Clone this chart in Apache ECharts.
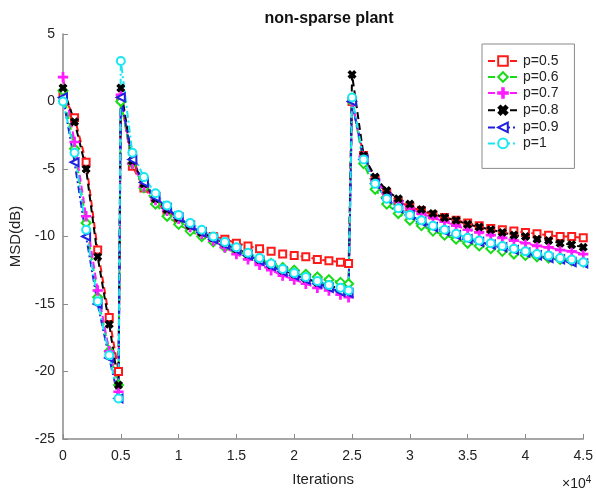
<!DOCTYPE html>
<html>
<head>
<meta charset="utf-8">
<script src="https://cdn.jsdelivr.net/npm/echarts@6/dist/echarts.min.js"></script>
<style>
  html, body { margin: 0; padding: 0; background: #fff; }
  #chart { width: 596px; height: 492px; }
</style>
</head>
<body>
<div id="chart"></div>
<script>
// iterations (x), shared by every curve
const iters = [0, 1000, 2000, 3000, 4000, 4800, 5000,
  6000, 7000, 8000, 9000, 10000, 11000, 12000, 13000, 14000, 15000,
  16000, 17000, 18000, 19000, 20000, 21000, 22000, 23000, 24000, 24700, 25000,
  26000, 27000, 28000, 29000, 30000, 31000, 32000, 33000, 34000, 35000,
  36000, 37000, 38000, 39000, 40000, 41000, 42000, 43000, 44000, 45000];

const xTicks = [0, 5000, 10000, 15000, 20000, 25000, 30000, 35000, 40000, 45000];
const yTicks = [-25, -20, -15, -10, -5, 0, 5];

// MSD in dB
const msdP05 = [0.5, -1.2, -4.5, -11.0, -16.0, -20.0, 0.2,
  -4.8, -6.4, -7.4, -8.2, -8.8, -9.3, -9.7, -10.0, -10.2, -10.5, -10.7, -10.9, -11.1, -11.3, -11.4, -11.5, -11.7, -11.8, -11.9, -12.0,
  0.0,
  -4.0, -5.8, -6.8, -7.4, -7.8, -8.1, -8.4, -8.6, -8.8, -9.0, -9.2, -9.4, -9.5, -9.6, -9.7, -9.8, -9.9, -10.0, -10.0, -10.1];
const msdP06 = [0.8, -3.5, -9.0, -14.5, -18.5, -21.0, 0.0,
  -4.6, -6.4, -7.6, -8.5, -9.1, -9.6, -10.0, -10.4, -10.8, -11.1, -11.4, -11.7, -12.0, -12.3, -12.5, -12.8, -13.0, -13.2, -13.4, -13.5,
  0.0,
  -4.6, -6.5, -7.6, -8.3, -8.8, -9.2, -9.6, -9.9, -10.2, -10.5, -10.7, -10.9, -11.1, -11.3, -11.4, -11.5, -11.6, -11.7, -11.8, -11.9];
const msdP07 = [1.8, -3.0, -8.5, -14.0, -18.5, -21.5, 0.5,
  -4.6, -6.3, -7.3, -8.1, -8.7, -9.3, -9.8, -10.3, -10.8, -11.3, -11.7, -12.1, -12.5, -12.9, -13.2, -13.5, -13.8, -14.0, -14.3, -14.5,
  0.0,
  -4.1, -5.8, -6.8, -7.4, -7.9, -8.3, -8.6, -8.9, -9.2, -9.5, -9.7, -9.9, -10.1, -10.3, -10.5, -10.7, -10.8, -11.0, -11.1, -11.3];
const msdP08 = [1.0, -1.5, -5.0, -11.5, -16.5, -21.0, 1.0,
  -4.4, -6.1, -7.2, -8.0, -8.6, -9.2, -9.7, -10.1, -10.5, -10.9, -11.3, -11.7, -12.1, -12.5, -12.8, -13.1, -13.4, -13.6, -13.9, -14.0,
  2.0,
  -4.0, -5.6, -6.6, -7.2, -7.6, -8.0, -8.3, -8.6, -8.8, -9.1, -9.3, -9.5, -9.7, -9.9, -10.0, -10.2, -10.3, -10.5, -10.6, -10.8];
const msdP09 = [0.3, -4.5, -10.0, -15.0, -19.0, -22.0, 0.3,
  -4.3, -6.0, -7.1, -7.9, -8.6, -9.2, -9.7, -10.2, -10.6, -11.0, -11.4, -11.8, -12.2, -12.6, -12.9, -13.2, -13.5, -13.8, -14.1, -14.2,
  0.0,
  -4.3, -6.1, -7.2, -7.9, -8.4, -8.9, -9.3, -9.6, -9.9, -10.2, -10.4, -10.6, -10.8, -11.0, -11.2, -11.4, -11.6, -11.7, -11.9, -12.0];
const msdP1 = [0.0, -3.8, -9.5, -14.8, -18.8, -22.0, 3.0,
  -3.8, -5.6, -6.8, -7.7, -8.4, -9.0, -9.5, -10.0, -10.4, -10.8, -11.2, -11.6, -12.0, -12.4, -12.7, -13.0, -13.3, -13.6, -13.8, -14.0,
  0.3,
  -4.3, -6.1, -7.2, -7.9, -8.4, -8.8, -9.2, -9.5, -9.8, -10.1, -10.3, -10.5, -10.7, -10.9, -11.1, -11.3, -11.4, -11.6, -11.7, -11.9];

const seriesNames = ["p=0.5", "p=0.6", "p=0.7", "p=0.8", "p=0.9", "p=1"];

const plusPath = "path://M4.2,0H5.8V4.2H10V5.8H5.8V10H4.2V5.8H0V4.2H4.2Z";
const crossPath = "path://M3.6,0H6.4V3.6H10V6.4H6.4V10H3.6V6.4H0V3.6H3.6Z";
const dashed = [7, 4];
const dashDot = [7, 3, 2, 3];

function makeSeries(name, values, color, symbol, size, dash, rotate) {
  return {
    name: name,
    type: "line",
    data: iters.map((x, i) => [x, values[i]]),
    symbol: symbol,
    symbolSize: size,
    symbolRotate: rotate || 0,
    showAllSymbol: true,
    color: color,
    lineStyle: { color: color, width: 2, type: dash },
    itemStyle: { color: color, borderColor: color, borderWidth: 1.3 },
    emphasis: { disabled: true },
    animation: false,
  };
}

const chart = echarts.init(document.getElementById("chart"));

const font = "'Liberation Sans', Arial, sans-serif";

chart.setOption({
  backgroundColor: "#fff",
  title: {
    text: "non-sparse plant",
    left: 324,
    textAlign: "center",
    top: 6,
    textStyle: { fontFamily: font, fontSize: 16, fontWeight: "bold", color: "#111" },
  },
  grid: { left: 62, right: 10, top: 34, bottom: 50 },
  legend: {
    orient: "vertical",
    left: 482,
    top: 44,
    data: seriesNames,
    backgroundColor: "#fff",
    borderColor: "#8a8a8a",
    borderWidth: 1,
    borderRadius: 0,
    padding: [10, 16, 18, 5],
    itemGap: 2,
    itemWidth: 30,
    itemHeight: 12,
    textStyle: { fontFamily: font, fontSize: 14, color: "#222" },
  },
  xAxis: {
    type: "value",
    min: xTicks[0],
    max: xTicks[xTicks.length - 1],
    interval: 5000,
    name: "Iterations",
    nameLocation: "middle",
    nameGap: 33,
    nameTextStyle: { fontFamily: font, fontSize: 15, color: "#222" },
    splitLine: { show: false },
    axisLine: { onZero: false, lineStyle: { color: "#8a8a8a", width: 1.5 } },
    axisTick: { inside: true, length: 5, lineStyle: { color: "#8a8a8a" } },
    axisLabel: {
      fontFamily: font, fontSize: 14, color: "#222", margin: 10,
      formatter: (v) => String(v / 10000),
    },
  },
  yAxis: {
    type: "value",
    min: yTicks[0],
    max: yTicks[yTicks.length - 1],
    interval: 5,
    name: "MSD(dB)",
    nameLocation: "middle",
    nameGap: 40,
    nameTextStyle: { fontFamily: font, fontSize: 15, color: "#222" },
    splitLine: { show: false },
    axisLine: { show: true, onZero: false, lineStyle: { color: "#8a8a8a", width: 1.5 } },
    axisTick: { show: true, inside: true, length: 5, lineStyle: { color: "#8a8a8a" } },
    axisLabel: { fontFamily: font, fontSize: 14, color: "#222", margin: 8 },
  },
  graphic: [
    {
      type: "text",
      left: 562,
      top: 475,
      style: {
        text: "×10{sup|4}",
        fontFamily: font,
        fontSize: 14,
        fill: "#222",
        rich: { sup: { fontSize: 10, verticalAlign: "top", padding: [0, 0, 8, 0] } },
      },
    },
  ],
  series: [
    makeSeries(seriesNames[0], msdP05, "#ff1a1a", "emptyRect", 7, dashed),
    makeSeries(seriesNames[1], msdP06, "#1adb1a", "emptyDiamond", 9, dashed),
    makeSeries(seriesNames[2], msdP07, "#ff1aff", plusPath, 9, dashed),
    makeSeries(seriesNames[3], msdP08, "#000000", crossPath, 8, dashed, 45),
    makeSeries(seriesNames[4], msdP09, "#2020e0", "emptyTriangle", 8, dashDot, 90),
    makeSeries(seriesNames[5], msdP1, "#19e6f0", "emptyCircle", 8, dashDot),
  ],
});

window.addEventListener("resize", () => {
  chart.resize();
});
</script>
</body>
</html>
